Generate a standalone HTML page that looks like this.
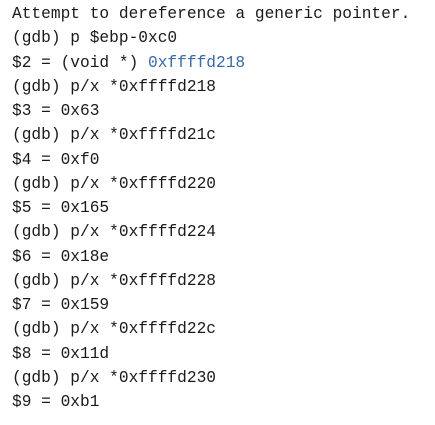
<!DOCTYPE html>
<html><head><style>
html,body{margin:0;padding:0;background:#fff;width:435px;height:425px;overflow:hidden}
pre{margin:0;position:absolute;left:12px;top:2px;font-family:"Liberation Mono","Noto Sans CJK SC",monospace;font-size:16.2px;line-height:24.25px;color:#1a1a1a}
.b{color:#3a6aa8}
</style></head><body>
<pre>Attempt to dereference a generic pointer.
(gdb) p $ebp-0xc0
$2 = (void *) <span class="b">0xffffd218</span>
(gdb) p/x *0xffffd218
$3 = 0x63
(gdb) p/x *0xffffd21c
$4 = 0xf0
(gdb) p/x *0xffffd220
$5 = 0x165
(gdb) p/x *0xffffd224
$6 = 0x18e
(gdb) p/x *0xffffd228
$7 = 0x159
(gdb) p/x *0xffffd22c
$8 = 0x11d
(gdb) p/x *0xffffd230
$9 = 0xb1</pre>
</body></html>
